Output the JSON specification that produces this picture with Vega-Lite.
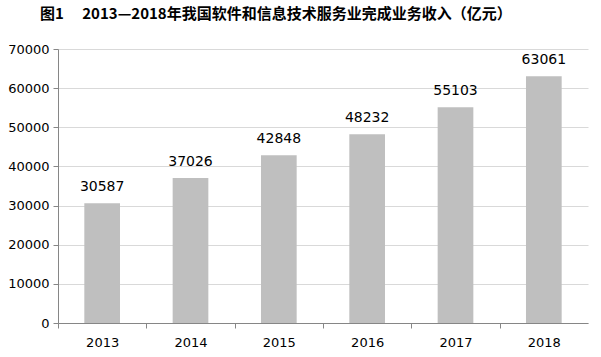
{
  "$schema": "https://vega.github.io/schema/vega-lite/v6.json",
  "width": 530,
  "height": 274,
  "autosize": {"type": "none"},
  "padding": {"left": 58, "top": 49, "right": 13, "bottom": 34},
  "background": "white",
  "title": {
    "text": "图1\u3000 2013—2018年我国软件和信息技术服务业完成业务收入（亿元）",
    "anchor": "start",
    "frame": "group",
    "dx": -18,
    "offset": 21,
    "font": "Noto Sans CJK SC",
    "fontSize": 15,
    "fontWeight": "bold",
    "color": "#000000"
  },
  "data": {
    "values": [
      {"year": "2013", "value": 30587},
      {"year": "2014", "value": 37026},
      {"year": "2015", "value": 42848},
      {"year": "2016", "value": 48232},
      {"year": "2017", "value": 55103},
      {"year": "2018", "value": 63061}
    ]
  },
  "encoding": {
    "x": {
      "field": "year",
      "type": "nominal",
      "scale": {"paddingInner": 0.596, "paddingOuter": 0.298},
      "axis": {
        "title": null,
        "labelAngle": 0,
        "labelFont": "DejaVu Sans",
        "labelFontSize": 13,
        "labelColor": "#000000",
        "labelPadding": 8,
        "domainColor": "#868686",
        "tickColor": "#868686",
        "tickOffset": -44.2,
        "labelOffset": 44.2,
        "tickSize": 5,
        "grid": false
      }
    },
    "y": {
      "field": "value",
      "type": "quantitative",
      "scale": {"domain": [0, 70000], "nice": false},
      "axis": {
        "title": null,
        "values": [0, 10000, 20000, 30000, 40000, 50000, 60000, 70000],
        "format": "d",
        "labelFont": "DejaVu Sans",
        "labelFontSize": 13,
        "labelColor": "#000000",
        "labelPadding": 4,
        "domainColor": "#868686",
        "tickColor": "#868686",
        "tickSize": 5,
        "gridColor": "#d9d9d9",
        "grid": true
      }
    }
  },
  "layer": [
    {"mark": {"type": "bar", "color": "#bfbfbf"}},
    {
      "mark": {"type": "text", "dy": -16, "font": "DejaVu Sans", "fontSize": 14, "color": "#000000"},
      "encoding": {"text": {"field": "value", "type": "quantitative", "format": "d"}}
    }
  ],
  "config": {"view": {"stroke": null}}
}
